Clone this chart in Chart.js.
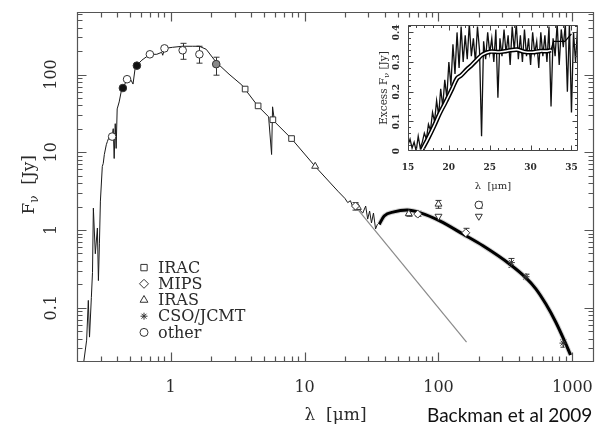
<!DOCTYPE html>
<html>
<head>
<meta charset="utf-8">
<script src="https://cdn.jsdelivr.net/npm/chart.js@4.4.1/dist/chart.umd.min.js"></script>
<style>
  html, body { margin: 0; padding: 0; background: #fff; }
  #wrap { position: relative; width: 601px; height: 429px; overflow: hidden; }
  #main { position: absolute; left: 0; top: 0; }
  #inset { position: absolute; left: 360px; top: 18px; }
  #credit { position: absolute; left: 427px; top: 404px; font-family: Lato, 'Open Sans', sans-serif;
            font-size: 19px; color: #111; white-space: nowrap; line-height: 22px; }
</style>
</head>
<body>
<div id="wrap">
  <canvas id="main" width="601" height="429"></canvas>
  <canvas id="inset" width="230" height="177"></canvas>
  <div id="credit">Backman et al 2009</div>
</div>
<script>
// ── SED OF THE STAR + DEBRIS DISK (λ in µm, Fν in Jy) ──

// observed optical / near-IR / IRS spectrum (thin line)
const specLam  = [0.224, 0.236, 0.243, 0.248, 0.256, 0.261, 0.265, 0.274, 0.284, 0.289,
                  0.294, 0.299, 0.309, 0.314, 0.320, 0.331, 0.337, 0.348, 0.366, 0.373,
                  0.379, 0.386, 0.392, 0.399, 0.413, 0.427, 0.442, 0.473, 0.506, 0.524,
                  0.542, 0.561, 0.610, 0.700, 0.788, 0.858, 0.873, 0.903, 1.035, 1.226,
                  1.454, 1.638, 1.845, 2.188, 2.73, 3.405, 4.47, 5.39, 5.675, 5.77,
                  5.97, 7.975, 12.0, 17.75, 20.0, 21.0, 22.0, 23.0, 24.1, 27.2,
                  28.6, 29.6, 30.6, 31.6, 32.7, 33.9, 35.05];
const specFlux = [0.0194, 0.0382, 0.124, 0.0418, 0.136, 0.283, 1.91, 0.494, 1.06, 0.223,
                  0.663, 2.35, 6.57, 7.17, 9.35, 12.5, 13.7, 15.9, 15.9, 20.1,
                  8.31, 23.3, 11.2, 36.1, 44.4, 59.6, 67.0, 87.4, 84.8, 75.4,
                  117, 132, 153, 182, 182, 193, 177, 217, 224, 231,
                  231, 231, 211, 144, 101, 73.2, 39.5, 28.6, 9.35, 38.4,
                  24.7, 15.0, 6.57, 3.15, 2.55, 2.25, 2.38, 1.95, 2.03, 1.65,
                  2.03, 1.38, 1.75, 1.23, 1.65, 1.03, 1.19];

// disk model (thick line)
const modelLam  = [36.1, 39.3, 46.5, 58.4, 73.3, 103, 153, 215, 339, 450, 533, 632, 750, 889, 968];
const modelFlux = [1.18, 1.51, 1.71, 1.80, 1.66, 1.30, 0.88, 0.625, 0.365, 0.242, 0.175, 0.112, 0.0655, 0.0347, 0.0246];

// stellar photosphere extrapolation (grey line)
const photLam  = [24, 162];
const photFlux = [2.0, 0.036];

// photometry
const iracLam  = [3.6, 4.5, 5.8, 8.0];
const iracFlux = [65, 39.5, 26.2, 15.0];
const mipsLam  = [24, 70, 160];
const mipsFlux = [2.03, 1.6, 0.92];
const irasLam  = [12, 25, 60, 100];
const irasFlux = [6.6, 1.95, 1.62, 2.15];
const csoLam   = [350, 450, 850];
const csoFlux  = [0.38, 0.25, 0.035];
const otherLam  = [0.366, 0.44, 0.473, 0.56, 0.70, 0.90, 1.23, 1.64, 2.19, 200];
const otherFlux = [15.9, 67, 87, 130, 182, 217, 205, 182, 136, 2.1];
const limitLam  = [100, 200];
const limitFlux = [1.5, 1.5];

// error bars
const errLam = [1.23, 1.64, 2.19, 24, 60, 70, 100, 160, 200, 350, 450, 850];
const errLo  = [157, 140, 98, 1.8, 1.5, 1.5, 1.9, 0.82, 1.9, 0.33, 0.23, 0.031];
const errHi  = [252, 231, 167, 2.25, 1.78, 1.75, 2.4, 1.05, 2.3, 0.43, 0.27, 0.039];

const xTicks = [1, 10, 100, 1000];
const yTicks = [0.1, 1, 10, 100];
const legendLabels = ['IRAC', 'MIPS', 'IRAS', 'CSO/JCMT', 'other'];

// ── INSET: 15–36 µm excess spectrum ──
const insetLam = [15.00, 15.25, 15.50, 15.75, 16.00, 16.25, 16.50, 16.75, 17.00, 17.25,
                  17.50, 17.75, 18.00, 18.25, 18.50, 18.75, 19.00, 19.25, 19.50, 19.75,
                  20.00, 20.25, 20.50, 20.75, 21.00, 21.25, 21.50, 21.75, 22.00, 22.25,
                  22.50, 22.75, 23.00, 23.25, 23.50, 23.75, 24.00, 24.25, 24.50, 24.75,
                  25.00, 25.25, 25.50, 25.75, 26.00, 26.25, 26.50, 26.75, 27.00, 27.25,
                  27.50, 27.75, 28.00, 28.25, 28.50, 28.75, 29.00, 29.25, 29.50, 29.75,
                  30.00, 30.25, 30.50, 30.75, 31.00, 31.25, 31.50, 31.75, 32.00, 32.25,
                  32.50, 32.75, 33.00, 33.25, 33.50, 33.75, 34.00, 34.25, 34.50, 34.75,
                  35.00, 35.25, 35.50, 35.75];
const insetExcess = [0.02, 0.04, 0.01, 0.03, 0.00, 0.05, 0.01, 0.03, 0.06, 0.04,
                     0.09, 0.07, 0.13, 0.10, 0.17, 0.12, 0.21, 0.15, 0.24, 0.18,
                     0.30, 0.22, 0.36, 0.26, 0.40, 0.28, 0.42, 0.30, 0.39, 0.31,
                     0.43, 0.32, 0.38, 0.30, 0.42, 0.34, 0.05, 0.37, 0.31, 0.40,
                     0.33, 0.38, 0.30, 0.41, 0.18, 0.38, 0.32, 0.41, 0.33, 0.39,
                     0.29, 0.42, 0.34, 0.43, 0.31, 0.39, 0.30, 0.41, 0.32, 0.38,
                     0.29, 0.40, 0.33, 0.37, 0.28, 0.40, 0.32, 0.39, 0.30, 0.42,
                     0.15, 0.38, 0.32, 0.43, 0.29, 0.41, 0.35, 0.43, 0.20, 0.43,
                     0.13, 0.40, 0.30, 0.42];
const smoothLam    = [16.7, 17.5, 18.2, 18.9, 19.6, 20.4, 21.0, 21.5, 22.2, 22.8, 23.5,
                      24.1, 25.0, 26.2, 27.2, 28.3, 29.2, 30.2, 31.2, 32.0, 32.5];
const smoothExcess = [0.003, 0.045, 0.085, 0.128, 0.165, 0.21, 0.245, 0.255, 0.275, 0.29, 0.31,
                      0.325, 0.335, 0.334, 0.338, 0.342, 0.335, 0.333, 0.337, 0.337, 0.34];
const stepLam    = [32.5, 32.8, 34.2, 35.0];
const stepExcess = [0.34, 0.37, 0.37, 0.395];
const insetXTicks = [15, 20, 25, 30, 35];
const insetYTicks = [0, 0.1, 0.2, 0.3, 0.4];

// ── HELPERS ──
const pts = (xs, ys) => xs.map((x, i) => ({ x, y: ys[i] }));
const SERIF = "'DejaVu Serif', 'Liberation Serif', serif";
const INK = '#2b2b2b';

function logMarks(min, max) {
  const major = [], minor = [];
  for (let k = Math.floor(Math.log10(min)); k <= Math.ceil(Math.log10(max)); k++) {
    for (let m = 1; m <= 9; m++) {
      const v = m * Math.pow(10, k);
      if (v < min || v > max) continue;
      (m === 1 ? major : minor).push(v);
    }
  }
  return { major, minor };
}
function linMarks(min, max, step) {
  const out = [];
  for (let v = min; v <= max + 1e-9; v += step) out.push(v);
  return out;
}

// ── FRAME WITH INWARD TICKS ON ALL FOUR SIDES ──
const framePlugin = {
  id: 'frame',
  afterDatasetsDraw(chart, args, o) {
    const { ctx, chartArea: a } = chart;
    const sx = chart.scales.x, sy = chart.scales.y;
    const L = Math.round(a.left) + 0.5, R = Math.round(a.right) - 0.5;
    const T = Math.round(a.top) + 0.5, B = Math.round(a.bottom) - 0.5;
    ctx.save();
    ctx.strokeStyle = o.color;
    ctx.lineWidth = o.lineWidth;
    ctx.beginPath();
    ctx.rect(L, T, R - L, B - T);
    const tx = (v, len) => {
      const p = Math.round(sx.getPixelForValue(v)) + 0.5;
      if (p < L || p > R) return;
      ctx.moveTo(p, B); ctx.lineTo(p, B - len);
      ctx.moveTo(p, T); ctx.lineTo(p, T + len);
    };
    const ty = (v, len) => {
      const p = Math.round(sy.getPixelForValue(v)) + 0.5;
      if (p < T || p > B) return;
      ctx.moveTo(L, p); ctx.lineTo(L + len, p);
      ctx.moveTo(R, p); ctx.lineTo(R - len, p);
    };
    o.xMajor.forEach(v => tx(v, o.majorLen));
    o.xMinor.forEach(v => tx(v, o.minorLen));
    o.yMajor.forEach(v => ty(v, o.majorLen));
    o.yMinor.forEach(v => ty(v, o.minorLen));
    ctx.stroke();
    ctx.restore();
  }
};

// ── ROTATED Y TITLE WITH SUBSCRIPT ν ──
const yTitlePlugin = {
  id: 'ytitle',
  afterDraw(chart, args, o) {
    const { ctx, chartArea: a } = chart;
    const big = `${o.size}px ${SERIF}`, small = `${Math.round(o.size * 0.72)}px ${SERIF}`;
    ctx.save();
    ctx.translate(a.left - o.offset, (a.top + a.bottom) / 2 + (o.shift || 0));
    ctx.rotate(-Math.PI / 2);
    ctx.fillStyle = INK;
    ctx.textBaseline = 'middle';
    ctx.font = big;
    const w1 = ctx.measureText(o.pre).width, w3 = ctx.measureText(o.post).width;
    ctx.font = small;
    const w2 = ctx.measureText('ν').width;
    let x = -(w1 + w2 + w3) / 2;
    ctx.font = big; ctx.fillText(o.pre, x, 0); x += w1;
    ctx.font = small; ctx.fillText('ν', x, o.size * 0.3); x += w2;
    ctx.font = big; ctx.fillText(o.post, x, 0);
    ctx.restore();
  }
};

// ── ERROR BARS ──
const errorBarPlugin = {
  id: 'errbars',
  beforeDatasetsDraw(chart) {
    const { ctx } = chart;
    const sx = chart.scales.x, sy = chart.scales.y;
    ctx.save();
    ctx.strokeStyle = '#333';
    ctx.lineWidth = 1;
    ctx.beginPath();
    errLam.forEach((lam, i) => {
      const px = Math.round(sx.getPixelForValue(lam)) + 0.5;
      const lo = sy.getPixelForValue(errLo[i]), hi = sy.getPixelForValue(errHi[i]);
      ctx.moveTo(px, lo); ctx.lineTo(px, hi);
      ctx.moveTo(px - 3, lo); ctx.lineTo(px + 3, lo);
      ctx.moveTo(px - 3, hi); ctx.lineTo(px + 3, hi);
    });
    ctx.stroke();
    ctx.restore();
  }
};

// ── LEGEND INSIDE THE PLOT ──
const legendStyles = [
  { pointStyle: 'rect', radius: 4.5 },
  { pointStyle: 'rectRot', radius: 4.5 },
  { pointStyle: 'triangle', radius: 4.5 },
  { pointStyle: 'star', radius: 3.5 },
  { pointStyle: 'circle', radius: 4 }
];
const sedLegendPlugin = {
  id: 'sedlegend',
  afterDraw(chart) {
    const { ctx, chartArea: a } = chart;
    const mx = a.left + 67, tx = a.left + 81;
    ctx.save();
    ctx.font = `16px ${SERIF}`;
    ctx.textBaseline = 'middle';
    legendLabels.forEach((lab, i) => {
      const y = a.top + 256 + i * 16.2;
      ctx.strokeStyle = '#333'; ctx.fillStyle = '#fff'; ctx.lineWidth = 1;
      Chart.helpers.drawPoint(ctx, { ...legendStyles[i], rotation: 0, borderWidth: 1 }, mx, y);
      ctx.fillStyle = INK;
      ctx.fillText(lab, tx, y + 1);
    });
    ctx.restore();
  }
};

const whiteArea = {
  id: 'whitearea',
  beforeDatasetsDraw(chart) {
    const { ctx, chartArea: a } = chart;
    ctx.save();
    ctx.fillStyle = '#fff';
    ctx.fillRect(a.left, a.top, a.right - a.left, a.bottom - a.top);
    ctx.restore();
  }
};

const marker = (style, radius, fill) => ({
  showLine: false, pointStyle: style, pointRadius: radius, pointBorderWidth: 1,
  borderColor: '#333', pointBorderColor: '#333', pointBackgroundColor: fill || '#fff'
});
const line = (color, width) => ({
  borderColor: color, borderWidth: width, pointRadius: 0, fill: false
});

// ── MAIN SED CHART ──
const xm = logMarks(0.2, 1450), ym = logMarks(0.02, 645);
new Chart(document.getElementById('main'), {
  type: 'line',
  data: {
    datasets: [
      { label: 'IRAC',  data: pts(iracLam, iracFlux), ...marker('rect', 4) },
      { label: 'MIPS',  data: pts(mipsLam, mipsFlux), ...marker('rectRot', 4) },
      { label: 'IRAS',  data: pts(irasLam, irasFlux), ...marker('triangle', 4) },
      { label: 'CSO/JCMT', data: pts(csoLam, csoFlux), ...marker('star', 3.5) },
      { label: 'other', data: pts(otherLam, otherFlux),
        ...marker('circle', 3.8, ['#fff', '#111', '#fff', '#111', '#fff', '#fff', '#fff', '#fff', '#888', '#fff']) },
      { label: 'upper limits', data: pts(limitLam, limitFlux), ...marker('triangle', 4), pointRotation: 180 },
      { label: 'spectrum', data: pts(specLam, specFlux), ...line('#1a1a1a', 1) },
      { label: 'model', data: pts(modelLam, modelFlux), ...line('#000', 3), cubicInterpolationMode: 'monotone' },
      { label: 'model halo', data: pts(modelLam, modelFlux), ...line('#d4d4d4', 5), cubicInterpolationMode: 'monotone' },
      { label: 'photosphere', data: pts(photLam, photFlux), ...line('#8a8a8a', 1.2) }
    ]
  },
  options: {
    responsive: false,
    animation: false,
    layout: { padding: { left: 0, top: 9, right: 2, bottom: 0 } },
    plugins: {
      legend: { display: false },
      tooltip: { enabled: false },
      frame: { color: '#555', lineWidth: 1.2, majorLen: 9, minorLen: 5,
               xMajor: xm.major, xMinor: xm.minor, yMajor: ym.major, yMinor: ym.minor },
      ytitle: { pre: 'F', post: '  [Jy]', size: 17, offset: 47, shift: -2 }
    },
    scales: {
      x: {
        type: 'logarithmic', min: 0.2, max: 1450,
        afterBuildTicks: s => { s.ticks = xTicks.map(v => ({ value: v })); },
        afterFit: s => { s.height = 67; },
        grid: { display: false }, border: { display: false },
        ticks: { autoSkip: false, maxRotation: 0, padding: 8, color: INK,
                 font: { family: SERIF, size: 16 }, callback: v => String(v) },
        title: { display: true, text: 'λ  [μm]', color: INK,
                 font: { family: SERIF, size: 17 }, padding: { top: 0, bottom: 3 } }
      },
      y: {
        type: 'logarithmic', min: 0.02, max: 645,
        afterBuildTicks: s => { s.ticks = yTicks.map(v => ({ value: v })); },
        afterFit: s => { s.width = 77; },
        grid: { display: false }, border: { display: false },
        ticks: { autoSkip: false, minRotation: 90, maxRotation: 90, crossAlign: 'center',
                 padding: 2, color: INK, font: { family: SERIF, size: 16 }, callback: v => String(v) }
      }
    }
  },
  plugins: [errorBarPlugin, framePlugin, yTitlePlugin, sedLegendPlugin]
});

// ── INSET: EXCESS SPECTRUM ──
new Chart(document.getElementById('inset'), {
  type: 'line',
  data: {
    datasets: [
      { label: 'fit core', data: pts(smoothLam, smoothExcess), ...line('#fff', 1.6), tension: 0.3 },
      { label: 'fit edge', data: pts(smoothLam, smoothExcess), ...line('#000', 4.6), tension: 0.3 },
      { label: 'fit tail', data: pts(stepLam, stepExcess), ...line('#000', 1.3) },
      { label: 'excess', data: pts(insetLam, insetExcess), ...line('#111', 1.3) }
    ]
  },
  options: {
    responsive: false,
    animation: false,
    layout: { padding: { left: 0, top: 7, right: 12, bottom: 0 } },
    plugins: {
      legend: { display: false },
      tooltip: { enabled: false },
      frame: { color: '#444', lineWidth: 1, majorLen: 5, minorLen: 2.5,
               xMajor: insetXTicks, xMinor: linMarks(16, 35, 1),
               yMajor: insetYTicks, yMinor: linMarks(0.02, 0.42, 0.02) },
      ytitle: { pre: 'Excess F', post: ' [Jy]', size: 10.5, offset: 24, shift: 0 }
    },
    scales: {
      x: {
        type: 'linear', min: 15, max: 35.8,
        afterBuildTicks: s => { s.ticks = insetXTicks.map(v => ({ value: v })); },
        afterFit: s => { s.height = 44; },
        grid: { display: false }, border: { display: false },
        ticks: { autoSkip: false, maxRotation: 0, padding: 3, color: INK,
                 font: { family: SERIF, size: 9, weight: 'bold' }, callback: v => String(v) },
        title: { display: true, text: 'λ  [μm]', color: INK,
                 font: { family: SERIF, size: 10 }, padding: { top: 0, bottom: 3 } }
      },
      y: {
        min: 0, max: 0.425,
        afterBuildTicks: s => { s.ticks = insetYTicks.map(v => ({ value: v })); },
        afterFit: s => { s.width = 48; },
        grid: { display: false }, border: { display: false },
        ticks: { autoSkip: false, minRotation: 90, maxRotation: 90, crossAlign: 'center',
                 padding: -4, color: INK, font: { family: SERIF, size: 9, weight: 'bold' },
                 callback: v => String(v) }
      }
    }
  },
  plugins: [whiteArea, framePlugin, yTitlePlugin]
});
</script>
</body>
</html>
